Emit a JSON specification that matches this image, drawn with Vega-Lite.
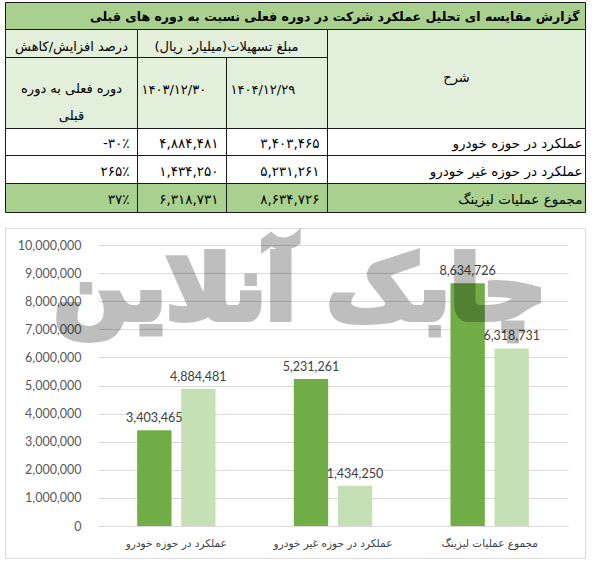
{
  "$schema": "https://vega.github.io/schema/vega-lite/v6.json",
  "width": 470,
  "height": 281,
  "autosize": {"type": "none"},
  "padding": {"left": 98, "top": 245, "right": 27, "bottom": 37},
  "background": "white",
  "config": {"view": {"stroke": null}, "font": "DejaVu Sans"},
  "datasets": {
    "cells": [
      {"t": "گزارش مقایسه ای تحلیل عملکرد شرکت در دوره فعلی نسبت به دوره های قبلی", "role": "title", "kind": "title", "c1": 0, "c2": 4, "r1": 0, "r2": 1},
      {"t": "شرح", "role": "header", "kind": "header", "c1": 3, "c2": 4, "r1": 1, "r2": 4},
      {"t": "مبلغ تسهیلات(میلیارد ریال)", "role": "header", "kind": "header", "c1": 1, "c2": 3, "r1": 1, "r2": 2},
      {"t": "درصد افزایش/کاهش", "role": "header", "kind": "header", "c1": 0, "c2": 1, "r1": 1, "r2": 2},
      {"t": "۱۴۰۴/۱۲/۲۹", "role": "date", "kind": "header", "c1": 2, "c2": 3, "r1": 2, "r2": 4},
      {"t": "۱۴۰۳/۱۲/۳۰", "role": "date", "kind": "header", "c1": 1, "c2": 2, "r1": 2, "r2": 4},
      {"t": "دوره فعلی به دوره\nقبلی", "role": "subheader", "kind": "header", "c1": 0, "c2": 1, "r1": 2, "r2": 4},
      {"t": "عملکرد در حوزه خودرو", "role": "label", "kind": "body", "c1": 3, "c2": 4, "r1": 4, "r2": 5},
      {"t": "۳,۴۰۳,۴۶۵", "role": "number", "kind": "body", "c1": 2, "c2": 3, "r1": 4, "r2": 5},
      {"t": "۴,۸۸۴,۴۸۱", "role": "number", "kind": "body", "c1": 1, "c2": 2, "r1": 4, "r2": 5},
      {"t": "-۳۰٪", "role": "number", "kind": "body", "c1": 0, "c2": 1, "r1": 4, "r2": 5},
      {"t": "عملکرد در حوزه غیر خودرو", "role": "label", "kind": "body", "c1": 3, "c2": 4, "r1": 5, "r2": 6},
      {"t": "۵,۲۳۱,۲۶۱", "role": "number", "kind": "body", "c1": 2, "c2": 3, "r1": 5, "r2": 6},
      {"t": "۱,۴۳۴,۲۵۰", "role": "number", "kind": "body", "c1": 1, "c2": 2, "r1": 5, "r2": 6},
      {"t": "۲۶۵٪", "role": "number", "kind": "body", "c1": 0, "c2": 1, "r1": 5, "r2": 6},
      {"t": "مجموع عملیات لیزینگ", "role": "label", "kind": "total", "c1": 3, "c2": 4, "r1": 6, "r2": 7},
      {"t": "۸,۶۳۴,۷۲۶", "role": "number", "kind": "total", "c1": 2, "c2": 3, "r1": 6, "r2": 7},
      {"t": "۶,۳۱۸,۷۳۱", "role": "number", "kind": "total", "c1": 1, "c2": 2, "r1": 6, "r2": 7},
      {"t": "۳۷٪", "role": "number", "kind": "total", "c1": 0, "c2": 1, "r1": 6, "r2": 7}
    ],
    "bars": [
      {"category": "عملکرد در حوزه خودرو", "period": "۱۴۰۴/۱۲/۲۹", "value": 3403465},
      {"category": "عملکرد در حوزه خودرو", "period": "۱۴۰۳/۱۲/۳۰", "value": 4884481},
      {"category": "عملکرد در حوزه غیر خودرو", "period": "۱۴۰۴/۱۲/۲۹", "value": 5231261},
      {"category": "عملکرد در حوزه غیر خودرو", "period": "۱۴۰۳/۱۲/۳۰", "value": 1434250},
      {"category": "مجموع عملیات لیزینگ", "period": "۱۴۰۴/۱۲/۲۹", "value": 8634726},
      {"category": "مجموع عملیات لیزینگ", "period": "۱۴۰۳/۱۲/۳۰", "value": 6318731}
    ]
  },
  "resolve": {"scale": {"x": "independent", "y": "independent"}, "axis": {"x": "independent", "y": "independent"}},
  "layer": [
    {
      "data": {"name": "cells"},
      "transform": [
        {"calculate": "(datum.c1 + datum.c2) / 2", "as": "cm"},
        {"calculate": "(datum.r1 + datum.r2) / 2", "as": "rm"}
      ],
      "encoding": {
        "x": {"field": "c1", "type": "quantitative", "axis": null,
              "scale": {"domain": [0, 1, 2, 3, 4], "range": [-92.5, 39.5, 128.5, 229.5, 487.5], "nice": false, "zero": false}},
        "y": {"field": "rm", "type": "quantitative", "axis": null,
              "scale": {"domain": [0, 1, 2, 4, 5, 6, 7, 8, 9], "range": [-242.5, -215.5, -187.5, -116.5, -89.5, -61.5, -32.5, -16.5, 313.5], "nice": false, "zero": false}}
      },
      "layer": [
        {
          "mark": {"type": "rect", "strokeWidth": 0},
          "encoding": {
            "y": {"field": "r1", "type": "quantitative"},
            "x2": {"field": "c2"},
            "y2": {"field": "r2"},
            "fill": {"field": "kind", "type": "nominal", "legend": null,
                     "scale": {"domain": ["title", "header", "body", "total"], "range": ["#A9D08E", "#E2EFDA", "#FFFFFF", "#A9D08E"]}}
          }
        },
        {
          "mark": {"type": "rect", "fill": "transparent", "stroke": "#1a1a1a", "strokeWidth": 1},
          "encoding": {
            "y": {"field": "r1", "type": "quantitative"},
            "x2": {"field": "c2"},
            "y2": {"field": "r2"}
          }
        },
        {
          "transform": [{"filter": "datum.role == 'title'"}],
          "mark": {"type": "text", "fontSize": 12.5, "fontWeight": "bold", "color": "#000000", "align": "right", "dx": -6, "dy": 1},
          "encoding": {"x": {"field": "c2", "type": "quantitative"}, "text": {"field": "t"}}
        },
        {
          "transform": [{"filter": "datum.role == 'header'"}],
          "mark": {"type": "text", "fontSize": 13, "color": "#000000", "dy": 3},
          "encoding": {"x": {"field": "cm", "type": "quantitative"}, "text": {"field": "t"}}
        },
        {
          "transform": [{"filter": "datum.role == 'subheader'"}],
          "mark": {"type": "text", "fontSize": 13, "color": "#000000", "lineBreak": "\n", "lineHeight": 27, "dy": -4.5},
          "encoding": {"x": {"field": "cm", "type": "quantitative"}, "text": {"field": "t"}}
        },
        {
          "transform": [{"filter": "datum.role == 'date'"}],
          "mark": {"type": "text", "fontSize": 13, "color": "#000000", "align": "left", "dx": 4, "dy": -3},
          "encoding": {"text": {"field": "t"}}
        },
        {
          "transform": [{"filter": "datum.role == 'label'"}],
          "mark": {"type": "text", "fontSize": 13.5, "color": "#000000", "align": "right", "dx": -3, "dy": 2},
          "encoding": {"x": {"field": "c2", "type": "quantitative"}, "text": {"field": "t"}}
        },
        {
          "transform": [{"filter": "datum.role == 'number'"}],
          "mark": {"type": "text", "fontSize": 13.5, "color": "#000000", "align": "right", "dx": -8, "dy": 2},
          "encoding": {"x": {"field": "c2", "type": "quantitative"}, "text": {"field": "t"}}
        },
        {
          "data": {"values": [{"part": "chart frame", "c1": 0, "c2": 4, "r1": 8, "r2": 9}]},
          "transform": [],
          "mark": {"type": "rect", "fill": "transparent", "stroke": "#D9D9D9", "strokeWidth": 1},
          "encoding": {"y": {"field": "r1", "type": "quantitative"}, "x2": {"field": "c2"}, "y2": {"field": "r2"}}
        }
      ]
    },
    {
      "data": {"name": "bars"},
      "encoding": {
        "x": {"field": "category", "type": "nominal", "sort": null,
              "scale": {"paddingInner": 0.5, "paddingOuter": 0.25},
              "axis": {"orient": "bottom", "title": null, "labelAngle": 0, "ticks": false, "domainColor": "#D9D9D9",
                       "labelFont": "DejaVu Sans", "labelFontSize": 10.5, "labelColor": "#404040", "labelPadding": 12}},
        "y": {"field": "value", "type": "quantitative",
              "scale": {"domain": [0, 10000000], "nice": false},
              "axis": {"orient": "left", "title": null, "values": [0, 1000000, 2000000, 3000000, 4000000, 5000000, 6000000, 7000000, 8000000, 9000000, 10000000],
                       "format": ",d", "grid": true, "gridColor": "#D9D9D9", "domain": false, "ticks": false,
                       "labelFont": "Lato", "labelFontSize": 12.5, "labelColor": "#595959", "labelPadding": 17}}
      },
      "layer": [
        {
          "mark": {"type": "bar"},
          "encoding": {
            "xOffset": {"field": "period", "type": "nominal", "sort": null, "scale": {"paddingInner": 0.22, "paddingOuter": 0}},
            "color": {"field": "period", "type": "nominal", "legend": null,
                      "scale": {"domain": ["۱۴۰۴/۱۲/۲۹", "۱۴۰۳/۱۲/۳۰"], "range": ["#70AD47", "#C5E0B4"]}}
          }
        },
        {
          "mark": {"type": "text", "baseline": "bottom", "dy": -5, "font": "Lato", "fontSize": 12.5, "color": "#404040"},
          "encoding": {
            "xOffset": {"field": "period", "type": "nominal", "sort": null},
            "text": {"field": "value", "type": "quantitative", "format": ",d"}
          }
        },
        {
          "mark": {"type": "text", "font": "DejaVu Sans", "fontWeight": "bold", "fontSize": 88, "color": "#000000", "stroke": "#000000", "strokeWidth": 6, "opacity": 0.25, "dx": -33},
          "encoding": {
            "x": {"datum": "عملکرد در حوزه غیر خودرو", "type": "nominal"},
            "y": {"datum": 8300000, "type": "quantitative"},
            "text": {"condition": {"test": "datum.category == 'مجموع عملیات لیزینگ' && datum.period == '۱۴۰۴/۱۲/۲۹'", "value": "چابک آنلاین"}, "value": ""}
          }
        }
      ]
    }
  ]
}
